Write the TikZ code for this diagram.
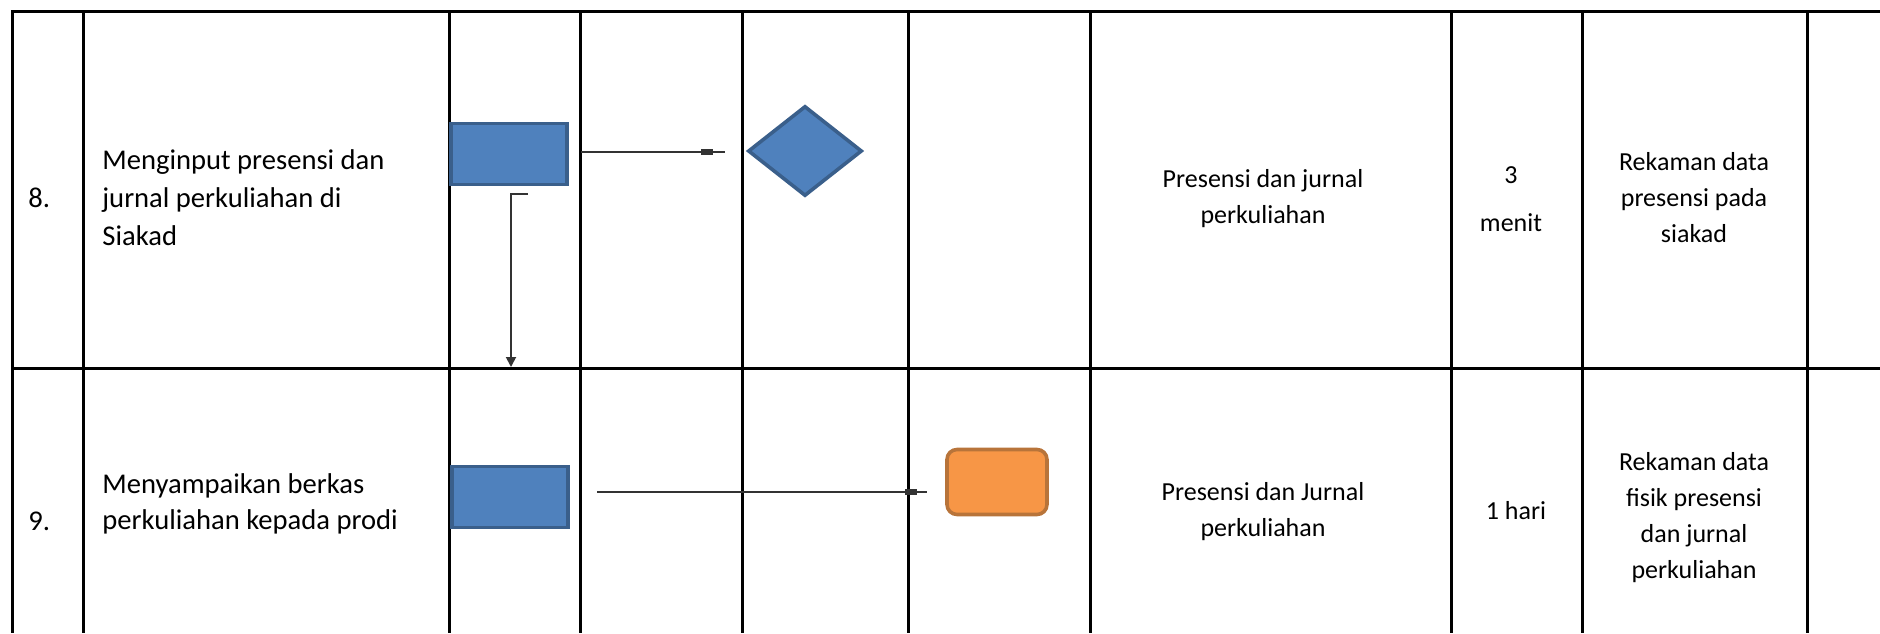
\documentclass[tikz,border=0pt]{standalone}
\usepackage{fontspec}
\setmainfont{Carlito}
\usetikzlibrary{shapes.geometric,arrows.meta}
\definecolor{bluefill}{HTML}{4F81BD}
\definecolor{blueedge}{HTML}{3A5F8B}
\definecolor{orangefill}{HTML}{F79646}
\definecolor{orangeedge}{HTML}{B8743A}
\definecolor{flowline}{HTML}{333333}
\begin{document}
\begin{tikzpicture}[x=0.5pt,y=-0.5pt,
  grid/.style={line width=1.5pt,black},
  procbox/.style={draw=blueedge,fill=bluefill,line width=1.8pt,inner sep=0pt,minimum width=58pt,minimum height=30.5pt},
  decbox/.style={diamond,draw=blueedge,fill=bluefill,line width=1.8pt,inner sep=0pt,minimum width=57pt,minimum height=45pt},
  endbox/.style={draw=orangeedge,fill=orangefill,line width=1.8pt,rounded corners=5pt,inner sep=0pt,minimum width=50pt,minimum height=32.5pt},
  bigtext/.style={inner sep=0pt,align=left,font=\fontsize{14.3}{19}\selectfont},
  midtext/.style={inner sep=0pt,align=left,font=\fontsize{14.3}{18}\selectfont},
  smalltext/.style={inner sep=0pt,align=center,font=\fontsize{13}{18}\selectfont},
  flow/.style={line width=0.9pt,flowline},
  tipblock/.style={fill=flowline,inner sep=0pt,minimum width=6pt,minimum height=3pt}
]
\useasboundingbox (0,0) rectangle (1880,633);
% grid
\draw[grid] (1880,11) -- (12,11) -- (12,633);
\draw[grid] (12,368) -- (1880,368);
\foreach \x in {83,449,580,742,908,1090,1451,1582,1807}
  \draw[grid] (\x,11) -- (\x,633);
% row 8
\node[bigtext,anchor=west] (n8) at (28,198) {8.};
\node[bigtext,anchor=west] (t8) at (102,198) {Menginput presensi dan\\jurnal perkuliahan di\\Siakad};
\node[procbox] (p8) at (509,154) {};
\node[decbox] (d8) at (805,151) {};
\node[smalltext] (o8) at (1263,199) {Presensi dan jurnal\\perkuliahan};
\node[smalltext] (w8) at (1511,199) {3\\[6pt]menit};
\node[smalltext] (r8) at (1694,198) {Rekaman data\\presensi pada\\siakad};
% row 9
\node[midtext,anchor=west] (n9) at (28,521) {9.};
\node[midtext,anchor=west] (t9) at (102,504) {Menyampaikan berkas\\perkuliahan kepada prodi};
\node[procbox] (p9) at (510,497) {};
\node[endbox] (e9) at (997,482) {};
\node[smalltext] (o9) at (1263,512) {Presensi dan Jurnal\\perkuliahan};
\node[smalltext] (w9) at (1516,511) {1 hari};
\node[smalltext] (r9) at (1694,518) {Rekaman data\\fisik presensi\\dan jurnal\\perkuliahan};
% connectors
\coordinate (a1s) at (581,152);
\coordinate (a1e) at (725,152);
\draw[flow] (a1s) -- (a1e);
\node[tipblock] (b1) at (707,152) {};
\coordinate (a2s) at (528,194);
\coordinate (a2c) at (511,194);
\coordinate (a2e) at (511,367);
\draw[flow,-{Triangle[length=5pt,width=5pt]}] (a2s) -- (a2c) -- (a2e);
\coordinate (a3s) at (597,492);
\coordinate (a3e) at (927,492);
\draw[flow] (a3s) -- (a3e);
\node[tipblock] (b3) at (911,492) {};
\end{tikzpicture}
\end{document}
